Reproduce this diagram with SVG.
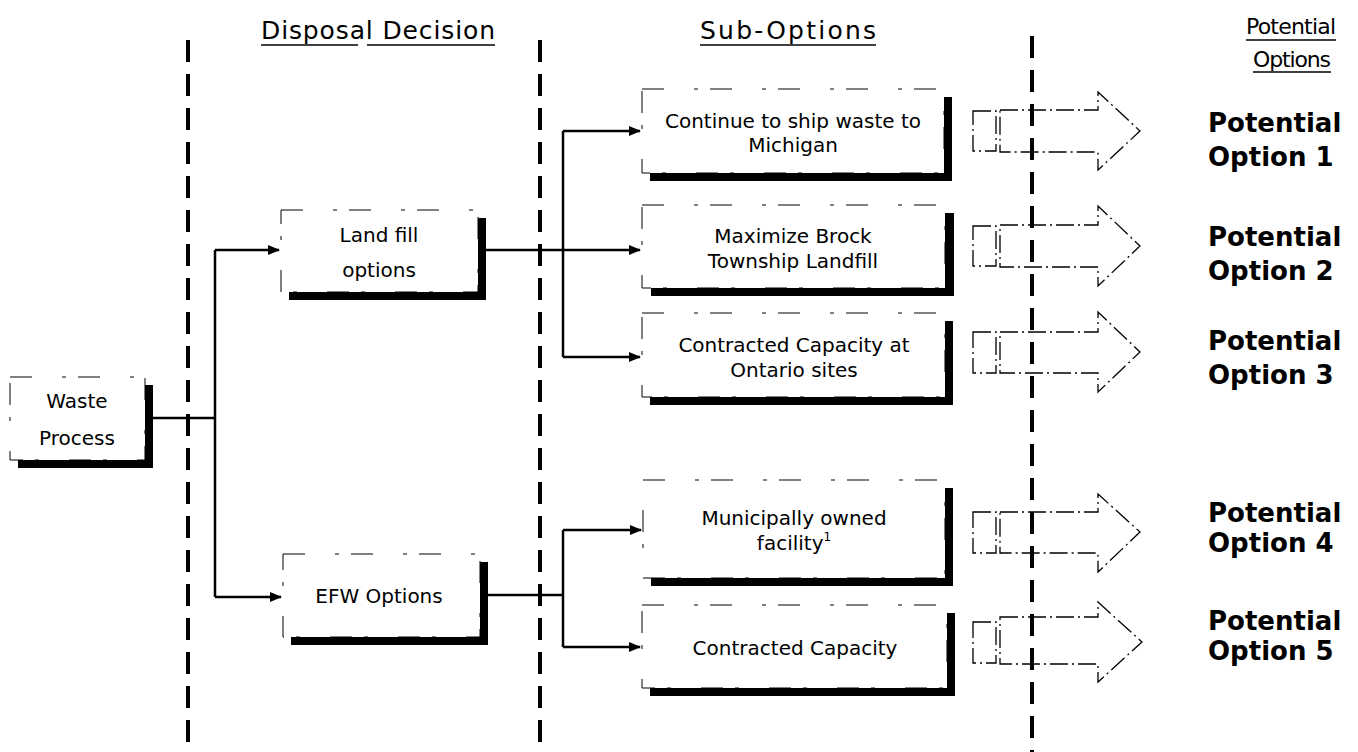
<svg xmlns="http://www.w3.org/2000/svg" width="1358" height="752" viewBox="0 0 1358 752">
<defs>
<style>
.t{font-family:"DejaVu Sans","Verdana",sans-serif;font-size:20px;fill:#000;text-anchor:middle}
.h{font-family:"DejaVu Sans","Verdana",sans-serif;font-size:25px;fill:#000;text-anchor:middle}
.hp{font-family:"DejaVu Sans","Verdana",sans-serif;font-size:22px;fill:#000;text-anchor:middle}
.b{font-family:"DejaVu Sans","Verdana",sans-serif;font-size:26px;font-weight:bold;fill:#000}
.sh{fill:#000}
.bx{fill:#fff;stroke:#000;stroke-width:1;stroke-dasharray:22 30 4 12}
.div{stroke:#000;stroke-width:4;stroke-dasharray:22 12;fill:none}
.ln{stroke:#000;stroke-width:2.5;fill:none}
.ul{stroke:#000;stroke-width:1.5}
.ar{fill:none;stroke:#000;stroke-width:1.3;stroke-dasharray:18 4 2 4}
</style>
<marker id="ah" viewBox="0 0 12 10" refX="11" refY="5" markerWidth="12" markerHeight="10" markerUnits="userSpaceOnUse" orient="auto">
<path d="M0,0 L12,5 L0,10 Z" fill="#000"/>
</marker>
</defs>
<rect width="1358" height="752" fill="#fff"/>

<g id="dividers">
<line class="div" x1="188" y1="40" x2="188" y2="752"/>
<line class="div" x1="540" y1="40" x2="540" y2="752"/>
<line class="div" x1="1032" y1="36" x2="1032" y2="752"/>
</g>

<g id="headers">
<text class="h" x="378" y="39" textLength="234">Disposal Decision</text>
<line class="ul" x1="261" y1="45" x2="358" y2="45"/>
<line class="ul" x1="367" y1="45" x2="495" y2="45"/>
<text class="h" x="788" y="39" textLength="176">Sub-Options</text>
<line class="ul" x1="700" y1="45" x2="876" y2="45"/>
<text class="hp" x="1291" y="34" textLength="90">Potential</text>
<line class="ul" x1="1246" y1="40" x2="1336" y2="40"/>
<text class="hp" x="1292" y="67" textLength="78">Options</text>
<line class="ul" x1="1253" y1="72" x2="1331" y2="72"/>
</g>

<g id="connectors">
<polyline class="ln" points="153,418 215,418"/>
<polyline class="ln" points="215,250 215,597"/>
<line class="ln" x1="215" y1="250" x2="279" y2="250" marker-end="url(#ah)"/>
<line class="ln" x1="215" y1="597" x2="281" y2="597" marker-end="url(#ah)"/>
<line class="ln" x1="486" y1="250" x2="640" y2="250" marker-end="url(#ah)"/>
<polyline class="ln" points="563,131 563,357"/>
<line class="ln" x1="563" y1="131" x2="640" y2="131" marker-end="url(#ah)"/>
<line class="ln" x1="563" y1="357" x2="640" y2="357" marker-end="url(#ah)"/>
<line class="ln" x1="488" y1="595" x2="563" y2="595"/>
<polyline class="ln" points="563,530 563,647"/>
<line class="ln" x1="563" y1="530" x2="641" y2="530" marker-end="url(#ah)"/>
<line class="ln" x1="563" y1="647" x2="640" y2="647" marker-end="url(#ah)"/>
</g>

<g id="waste-process">
<rect class="sh" x="18" y="385" width="135" height="83"/>
<rect class="bx" x="10" y="377" width="135" height="83"/>
<text class="t" x="77" y="408">Waste</text>
<text class="t" x="77" y="445">Process</text>
</g>

<g id="landfill-options">
<rect class="sh" x="289" y="218" width="197" height="82"/>
<rect class="bx" x="281" y="210" width="197" height="82"/>
<text class="t" x="379" y="242">Land fill</text>
<text class="t" x="379" y="277">options</text>
</g>

<g id="efw-options">
<rect class="sh" x="291" y="562" width="197" height="83"/>
<rect class="bx" x="283" y="554" width="197" height="83"/>
<text class="t" x="379" y="603">EFW Options</text>
</g>

<g id="sub-michigan">
<rect class="sh" x="650" y="97" width="302" height="84"/>
<rect class="bx" x="642" y="89" width="302" height="84"/>
<text class="t" x="793" y="128">Continue to ship waste to</text>
<text class="t" x="793" y="152">Michigan</text>
</g>

<g id="sub-brock">
<rect class="sh" x="651" y="213" width="303" height="83"/>
<rect class="bx" x="642" y="205" width="303" height="83"/>
<text class="t" x="793" y="243">Maximize Brock</text>
<text class="t" x="793" y="268">Township Landfill</text>
</g>

<g id="sub-ontario">
<rect class="sh" x="650" y="321" width="303" height="84"/>
<rect class="bx" x="642" y="313" width="303" height="84"/>
<text class="t" x="794" y="352">Contracted Capacity at</text>
<text class="t" x="794" y="377">Ontario sites</text>
</g>

<g id="sub-municipal">
<rect class="sh" x="651" y="488" width="302" height="98"/>
<rect class="bx" x="643" y="480" width="302" height="98"/>
<text class="t" x="794" y="525">Municipally owned</text>
<text class="t" x="794" y="550">facility<tspan font-size="12" dy="-9">1</tspan></text>
</g>

<g id="sub-contracted">
<rect class="sh" x="650" y="613" width="305" height="83"/>
<rect class="bx" x="642" y="605" width="305" height="83"/>
<text class="t" x="795" y="655">Contracted Capacity</text>
</g>

<g id="arrow-1">
<rect class="ar" x="973" y="111" width="23" height="40"/>
<path class="ar" d="M1000,110 H1098 V92 L1140,131 L1098,170 V152 H1000 Z"/>
<text class="b" x="1208" y="132">Potential</text>
<text class="b" x="1208" y="166">Option 1</text>
</g>

<g id="arrow-2">
<rect class="ar" x="973" y="226" width="23" height="40"/>
<path class="ar" d="M1000,225 H1098 V206 L1140,246 L1098,286 V267 H1000 Z"/>
<text class="b" x="1208" y="246">Potential</text>
<text class="b" x="1208" y="280">Option 2</text>
</g>

<g id="arrow-3">
<rect class="ar" x="973" y="332" width="23" height="41"/>
<path class="ar" d="M1000,332 H1098 V312 L1140,352 L1098,392 V373 H1000 Z"/>
<text class="b" x="1208" y="350">Potential</text>
<text class="b" x="1208" y="384">Option 3</text>
</g>

<g id="arrow-4">
<rect class="ar" x="973" y="512" width="23" height="41"/>
<path class="ar" d="M1000,512 H1098 V494 L1140,532 L1098,572 V553 H1000 Z"/>
<text class="b" x="1208" y="522">Potential</text>
<text class="b" x="1208" y="552">Option 4</text>
</g>

<g id="arrow-5">
<rect class="ar" x="973" y="622" width="23" height="41"/>
<path class="ar" d="M1000,617 H1098 V602 L1142,642 L1098,682 V664 H1000 Z"/>
<text class="b" x="1208" y="630">Potential</text>
<text class="b" x="1208" y="660">Option 5</text>
</g>
</svg>
